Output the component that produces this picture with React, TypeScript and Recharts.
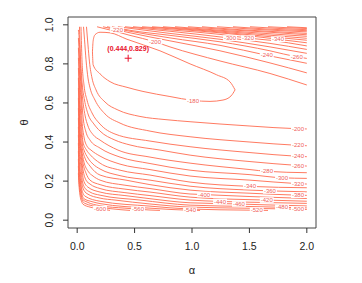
import React from 'react';
import { ComposedChart, Line, Scatter, XAxis, YAxis, ReferenceArea } from 'recharts';

type Pt = [number, number, string?];

// contour lines as (alpha, theta) pairs; a third item is the contour label shown there
const loopUpper: Pt[] = [
  [0.133, 0.862], [0.139, 0.918], [0.155, 0.949], [0.199, 0.962], [0.286, 0.959], [0.434, 0.926],
  [0.721, 0.867], [0.983, 0.8], [1.215, 0.744], [1.331, 0.708], [1.375, 0.667],
];
const loopLower: Pt[] = [
  [0.133, 0.862], [0.139, 0.795], [0.199, 0.749], [0.286, 0.709], [0.434, 0.68], [0.573, 0.659],
  [0.808, 0.633], [1.009, 0.613, '-180'], [1.157, 0.608], [1.27, 0.615], [1.34, 0.636], [1.375, 0.667],
];

// branches running from the top edge down to the right edge
const upperBranches: Pt[][] = [
  [[0.173, 0.99], [0.329, 0.967], [0.46, 0.946], [0.678, 0.913, '-200'], [0.808, 0.887], [1.244, 0.815], [1.679, 0.751], [2.0, 0.692]],
  [[0.225, 0.99], [0.347, 0.974, '-220'], [0.46, 0.959], [0.808, 0.918], [1.244, 0.867], [1.679, 0.805], [2.0, 0.754]],
  [[0.26, 0.99], [0.46, 0.967], [0.808, 0.933], [1.244, 0.895], [1.651, 0.844, '-240'], [2.0, 0.803]],
  [[0.303, 0.99], [0.46, 0.972], [0.808, 0.946], [1.244, 0.913], [1.679, 0.867], [1.912, 0.836, '-260'], [2.0, 0.828]],
  [[0.355, 0.99], [0.808, 0.956], [1.244, 0.926], [1.679, 0.887], [2.0, 0.854]],
  [[0.416, 0.99], [0.808, 0.967], [1.331, 0.932, '-300'], [1.679, 0.905], [2.0, 0.874]],
  [[0.486, 0.99], [0.808, 0.974], [1.244, 0.951], [1.488, 0.932, '-320'], [1.679, 0.921], [2.0, 0.892]],
  [[0.565, 0.99], [0.983, 0.972], [1.418, 0.949], [1.749, 0.926, '-340'], [2.0, 0.908]],
  [[0.652, 0.99], [1.07, 0.972], [1.505, 0.949], [2.0, 0.921]],
  [[0.747, 0.99], [1.157, 0.972], [1.592, 0.951], [2.0, 0.931]],
  [[0.852, 0.99], [1.244, 0.972], [1.636, 0.956], [2.0, 0.941]],
  [[0.965, 0.99], [1.331, 0.974], [1.679, 0.962], [2.0, 0.949]],
  [[1.087, 0.99], [1.418, 0.975], [1.723, 0.965], [2.0, 0.956]],
  [[1.218, 0.99], [1.549, 0.977], [2.0, 0.964]],
  [[1.357, 0.99], [1.636, 0.979], [2.0, 0.97]],
  [[1.505, 0.99], [1.767, 0.981], [2.0, 0.975]],
  [[1.662, 0.99], [1.836, 0.985], [2.0, 0.981]],
  [[1.828, 0.99], [2.0, 0.985]],
];

// L-shaped branches: down the left side (from the top or the left edge), then along the bottom
const leftBranches: Pt[][] = [
  [[0.081, 0.99], [0.094, 0.897], [0.107, 0.81], [0.129, 0.728], [0.164, 0.667], [0.242, 0.605], [0.355, 0.564], [0.547, 0.531], [0.765, 0.515], [0.983, 0.504], [1.505, 0.482], [1.923, 0.468, '-200'], [2.0, 0.467]],
  [[0.055, 0.99], [0.064, 0.923], [0.077, 0.821], [0.094, 0.728], [0.112, 0.677], [0.155, 0.615], [0.242, 0.544], [0.373, 0.497], [0.634, 0.456], [0.983, 0.427], [1.505, 0.4], [1.923, 0.383, '-220'], [2.0, 0.381]],
  [[0.0331, 0.99], [0.0418, 0.821], [0.0592, 0.692], [0.0854, 0.615], [0.129, 0.549], [0.199, 0.492], [0.329, 0.441], [0.634, 0.405], [0.983, 0.376], [1.505, 0.346], [1.923, 0.327, '-240'], [2.0, 0.325]],
  [[0.02, 0.99], [0.0279, 0.846], [0.0357, 0.759], [0.0444, 0.692], [0.0636, 0.615], [0.0941, 0.544], [0.146, 0.492], [0.199, 0.456], [0.329, 0.41], [0.46, 0.385], [0.721, 0.359], [0.983, 0.333], [1.505, 0.3], [1.923, 0.28, '-260'], [2.0, 0.277]],
  [[0.0105, 0.974], [0.0209, 0.897], [0.027, 0.81], [0.0375, 0.692], [0.0488, 0.615], [0.0679, 0.538], [0.0941, 0.482], [0.138, 0.438], [0.199, 0.41], [0.355, 0.359], [0.634, 0.323], [0.983, 0.292], [1.505, 0.259], [1.653, 0.25, '-280'], [2.0, 0.243]],
  [[0.0105, 0.933], [0.0183, 0.846], [0.027, 0.744], [0.0392, 0.615], [0.0523, 0.523], [0.0767, 0.451], [0.1115, 0.41], [0.199, 0.369], [0.373, 0.323], [0.634, 0.29], [0.983, 0.256], [1.505, 0.233], [1.784, 0.217, '-300'], [2.0, 0.214]],
  [[0.0105, 0.882], [0.0174, 0.795], [0.0253, 0.692], [0.0331, 0.615], [0.0418, 0.513], [0.0592, 0.426], [0.0854, 0.379], [0.12, 0.359], [0.199, 0.328], [0.373, 0.287], [0.634, 0.259], [0.983, 0.226], [1.505, 0.205], [1.923, 0.187, '-320'], [2.0, 0.185]],
  [[0.0105, 0.831], [0.0166, 0.744], [0.0226, 0.641], [0.0296, 0.554], [0.0375, 0.487], [0.0505, 0.4], [0.081, 0.359], [0.1115, 0.336], [0.199, 0.292], [0.373, 0.256], [0.634, 0.231], [0.983, 0.195], [1.505, 0.173, '-340'], [2.0, 0.166]],
  [[0.0105, 0.779], [0.0157, 0.692], [0.0209, 0.59], [0.027, 0.503], [0.0331, 0.462], [0.0462, 0.385], [0.0592, 0.359], [0.0941, 0.318], [0.138, 0.287], [0.199, 0.262], [0.373, 0.228], [0.634, 0.205], [0.983, 0.174], [1.505, 0.154], [1.679, 0.15, '-360'], [2.0, 0.145]],
  [[0.0105, 0.728], [0.0157, 0.626], [0.0209, 0.523], [0.0287, 0.436], [0.047, 0.359], [0.0679, 0.318], [0.1115, 0.277], [0.199, 0.231], [0.425, 0.205], [0.634, 0.182], [0.983, 0.154], [1.505, 0.138], [1.923, 0.128, '-380'], [2.0, 0.127]],
  [[0.0105, 0.677], [0.0157, 0.574], [0.02, 0.487], [0.0253, 0.421], [0.0392, 0.359], [0.0592, 0.297], [0.0941, 0.251], [0.138, 0.226], [0.199, 0.205], [0.416, 0.179], [0.634, 0.162], [0.983, 0.134], [1.105, 0.131, '-400'], [1.505, 0.121], [2.0, 0.111]],
  [[0.0105, 0.626], [0.0148, 0.538], [0.0192, 0.451], [0.0253, 0.395], [0.034, 0.359], [0.0505, 0.292], [0.0767, 0.241], [0.1115, 0.205], [0.199, 0.182], [0.416, 0.159], [0.634, 0.144], [0.983, 0.118], [1.505, 0.105], [1.651, 0.103, '-420'], [2.0, 0.097]],
  [[0.0105, 0.574], [0.0148, 0.487], [0.0192, 0.41], [0.0296, 0.359], [0.0444, 0.282], [0.0767, 0.205], [0.1115, 0.185], [0.199, 0.162], [0.416, 0.141], [0.634, 0.126], [0.983, 0.103], [1.244, 0.096, '-440'], [1.505, 0.092], [2.0, 0.086]],
  [[0.0105, 0.523], [0.0144, 0.446], [0.0183, 0.39], [0.0235, 0.349], [0.0383, 0.282], [0.0549, 0.205], [0.0941, 0.169], [0.199, 0.144], [0.416, 0.126], [0.634, 0.11], [0.983, 0.089], [1.409, 0.083, '-460'], [1.505, 0.081], [2.0, 0.073]],
  [[0.0105, 0.477], [0.0139, 0.41], [0.0174, 0.359], [0.0226, 0.318], [0.0331, 0.272], [0.0436, 0.205], [0.0679, 0.164], [0.1115, 0.144], [0.199, 0.128], [0.547, 0.103], [0.983, 0.077], [1.505, 0.07], [1.784, 0.066, '-480'], [2.0, 0.063]],
  [[0.0105, 0.436], [0.0139, 0.369], [0.0174, 0.318], [0.0244, 0.267], [0.0357, 0.205], [0.0505, 0.164], [0.0854, 0.136], [0.199, 0.113], [0.329, 0.103], [0.634, 0.083], [0.983, 0.067], [1.505, 0.061], [1.923, 0.056, '-500'], [2.0, 0.055]],
  [[0.0105, 0.395], [0.0139, 0.328], [0.0183, 0.277], [0.0253, 0.226], [0.0418, 0.154], [0.0679, 0.123], [0.199, 0.097], [0.634, 0.072], [0.983, 0.057], [1.505, 0.0513], [1.564, 0.051, '-520'], [1.662, 0.05]],
  [[0.0105, 0.354], [0.0139, 0.292], [0.0183, 0.241], [0.027, 0.195], [0.0375, 0.144], [0.0592, 0.11], [0.129, 0.095], [0.199, 0.085], [0.634, 0.0615], [0.983, 0.0508, '-540'], [1.07, 0.05]],
  [[0.0105, 0.313], [0.0139, 0.256], [0.0183, 0.21], [0.0244, 0.174], [0.0331, 0.1385], [0.0505, 0.105], [0.0854, 0.093], [0.199, 0.074], [0.416, 0.0615], [0.53, 0.056, '-560'], [0.634, 0.052], [0.721, 0.05]],
  [[0.0105, 0.277], [0.0139, 0.226], [0.0183, 0.185], [0.0235, 0.154], [0.0296, 0.133], [0.0418, 0.105], [0.0636, 0.087], [0.199, 0.067], [0.373, 0.054], [0.46, 0.05]],
  [[0.0105, 0.241], [0.0139, 0.195], [0.0183, 0.159], [0.0244, 0.128], [0.0375, 0.097], [0.0505, 0.082], [0.1115, 0.067], [0.199, 0.059, '-600'], [0.286, 0.05]],
];

const xTicks = [0, 0.5, 1, 1.5, 2];
const yTicks = [0, 0.2, 0.4, 0.6, 0.8, 1];
const maxPoint = [{ a: 0.444, t: 0.829, text: '(0.444,0.829)' }];

const LINE = '#ff6b4f';
const FONT = '"Liberation Sans", Arial, Helvetica, sans-serif';

const rows = (arr: Pt[]) => arr.map(([a, t, lab]) => ({ a, t, lab }));
const allLines = [loopUpper, loopLower, ...upperBranches, ...leftBranches];
const labelRows = allLines.flatMap(rows).filter((r) => r.lab);

const ContourLabel = (props: any) => {
  const { cx, cy, payload } = props;
  const w = payload.lab.length * 3.1 + 1.5;
  return (
    <g>
      <rect x={cx - w / 2} y={cy - 2.8} width={w} height={5.6} fill="#fff" />
      <text x={cx} y={cy + 2.1} textAnchor="middle" fontSize={6} fill="#f0605a" fontFamily={FONT}>
        {payload.lab}
      </text>
    </g>
  );
};

const MaxMark = (props: any) => {
  const { cx, cy, payload } = props;
  return (
    <g>
      <line x1={cx - 3.5} x2={cx + 3.5} y1={cy} y2={cy} stroke="#e8102a" strokeWidth={1} />
      <line x1={cx} x2={cx} y1={cy - 3.5} y2={cy + 3.5} stroke="#e8102a" strokeWidth={1} />
      <text x={cx} y={cy - 7} textAnchor="middle" fontSize={7} fontWeight="bold" fill="#e8102a" fontFamily={FONT}>
        {payload.text}
      </text>
    </g>
  );
};

const YTick = ({ x, y, payload }: any) => (
  <text x={x} y={y} transform={`rotate(-90 ${x} ${y})`} textAnchor="middle" fontSize={10.5} fill="#222" fontFamily={FONT}>
    {Number(payload.value).toFixed(1)}
  </text>
);

const YTitle = ({ viewBox }: any) => {
  const x = viewBox.x - 3;
  const y = viewBox.y + viewBox.height / 2;
  return (
    <text x={x} y={y} transform={`rotate(-90 ${x} ${y})`} textAnchor="middle" dominantBaseline="middle" fontSize={11} fill="#222" fontFamily={FONT}>
      θ
    </text>
  );
};

export default function App() {
  return (
    <div style={{ width: 354, height: 275, fontFamily: FONT }}>
      <ComposedChart width={354} height={275} margin={{ top: 9, right: 46, bottom: 25, left: 20 }}>
        <XAxis
          type="number"
          dataKey="a"
          domain={[-0.08, 2.08]}
          allowDataOverflow
          ticks={xTicks}
          tickFormatter={(v: number) => v.toFixed(1)}
          tickSize={5}
          tickMargin={10}
          height={30}
          axisLine={false}
          tickLine={{ stroke: '#333' }}
          tick={{ fontSize: 10.5, fill: '#222', fontFamily: FONT }}
          label={{ value: 'α', position: 'bottom', offset: 8, fontSize: 11, fill: '#222' }}
        />
        <YAxis
          type="number"
          dataKey="t"
          domain={[-0.04, 1.04]}
          allowDataOverflow
          ticks={yTicks}
          tickSize={5}
          tickMargin={10}
          width={40}
          axisLine={false}
          tickLine={{ stroke: '#333' }}
          tick={<YTick />}
          label={<YTitle />}
        />
        <ReferenceArea x1={-0.08} x2={2.08} y1={-0.04} y2={1.04} fill="none" stroke="#444" strokeWidth={1} ifOverflow="visible" />
        {allLines.map((arr, i) => (
          <Line
            key={i}
            data={rows(arr)}
            dataKey="t"
            type="monotoneX"
            stroke={LINE}
            strokeWidth={0.9}
            dot={false}
            activeDot={false}
            isAnimationActive={false}
          />
        ))}
        <Scatter data={labelRows} dataKey="t" shape={<ContourLabel />} isAnimationActive={false} />
        <Scatter data={maxPoint} dataKey="t" shape={<MaxMark />} isAnimationActive={false} />
      </ComposedChart>
    </div>
  );
}
